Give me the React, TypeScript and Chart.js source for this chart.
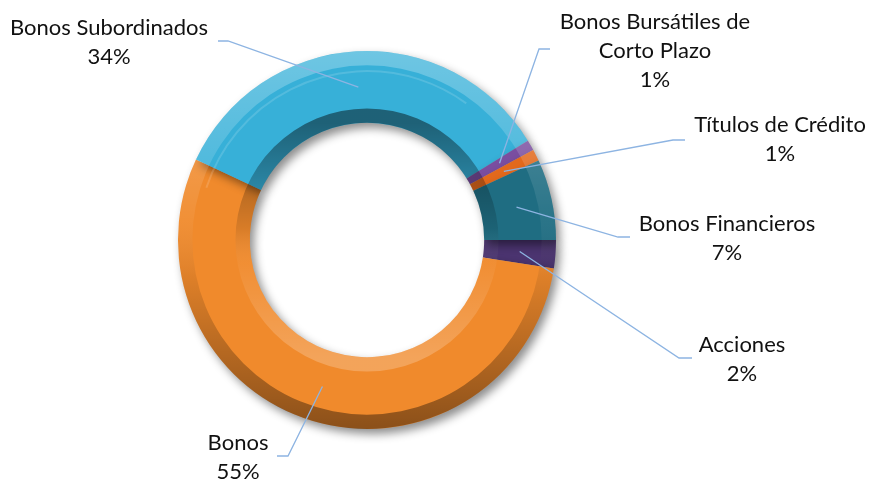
import React, { useEffect, useRef } from 'react';
import { Chart, registerables } from 'chart.js';

Chart.register(...registerables);

// ---- Data ----
const categories = [
  'Acciones',
  'Bonos',
  'Bonos Subordinados',
  'Bonos Bursátiles de Corto Plazo',
  'Títulos de Crédito',
  'Bonos Financieros',
];
const labelLines = [
  ['Acciones'],
  ['Bonos'],
  ['Bonos Subordinados'],
  ['Bonos Bursátiles de', 'Corto Plazo'],
  ['Títulos de Crédito'],
  ['Bonos Financieros'],
];
const shares = [2.4, 54.6, 34.2, 0.9, 1.0, 6.9];
const colors = ['#4B3470', '#F08A2C', '#37B0D8', '#7A4EA0', '#E2691C', '#1F6D82'];

// ---- Label layout (text centre, leader end point, elbow x) ----
const labelLayout = [
  { x: 742, y: 345, ex: 692, ey: 358, bx: 679 },
  { x: 238, y: 443, ex: 277, ey: 456, bx: 288 },
  { x: 109, y: 28, ex: 218, ey: 41, bx: 228 },
  { x: 655, y: 22, ex: 550, ey: 49, bx: 539 },
  { x: 780, y: 125, ex: 685, ey: 140, bx: 673 },
  { x: 727, y: 224, ex: 630, ey: 237, bx: 618 },
];

const FONT = '22px Lato, "Open Sans", sans-serif';
const LINE_H = 29;

const ringPath = (ctx: CanvasRenderingContext2D, cx: number, cy: number, r0: number, r1: number) => {
  ctx.beginPath();
  ctx.arc(cx, cy, r1, 0, Math.PI * 2, false);
  ctx.arc(cx, cy, r0, Math.PI * 2, 0, true);
  ctx.closePath();
};

const effectsPlugin = {
  id: 'effects',
  beforeDatasetsDraw(chart: any) {
    const ctx = chart.ctx;
    ctx.save();
    ctx.shadowColor = 'rgba(0,0,0,0.45)';
    ctx.shadowBlur = 10;
    ctx.shadowOffsetX = 4;
    ctx.shadowOffsetY = 5;
  },
  afterDatasetsDraw(chart: any) {
    const ctx = chart.ctx;
    ctx.restore();
    const meta = chart.getDatasetMeta(0);
    const arc = meta.data[0];
    if (!arc) return;
    const { x: cx, y: cy, innerRadius: ri, outerRadius: ro } = arc.getProps(['x', 'y', 'innerRadius', 'outerRadius'], true);
    const w = ro - ri;
    ctx.save();
    // outer bevel
    let g = ctx.createLinearGradient(0, cy - ro, 0, cy + ro);
    g.addColorStop(0, 'rgba(255,255,255,0.28)');
    g.addColorStop(0.45, 'rgba(255,255,255,0.05)');
    g.addColorStop(0.6, 'rgba(0,0,0,0.08)');
    g.addColorStop(1, 'rgba(0,0,0,0.42)');
    ringPath(ctx, cx, cy, ro - w * 0.2, ro);
    ctx.fillStyle = g;
    ctx.fill();
    // inner bevel
    g = ctx.createLinearGradient(0, cy - ri, 0, cy + ri);
    g.addColorStop(0, 'rgba(0,0,0,0.45)');
    g.addColorStop(0.45, 'rgba(0,0,0,0.1)');
    g.addColorStop(0.6, 'rgba(255,255,255,0.04)');
    g.addColorStop(1, 'rgba(255,255,255,0.22)');
    ringPath(ctx, cx, cy, ri, ri + w * 0.2);
    ctx.fillStyle = g;
    ctx.fill();
    // subtle highlight line on the face
    ctx.beginPath();
    ctx.arc(cx, cy, ro - w * 0.28, Math.PI * 1.1, Math.PI * 1.7, false);
    ctx.strokeStyle = 'rgba(255,255,255,0.14)';
    ctx.lineWidth = 2;
    ctx.stroke();
    ctx.restore();

    // labels and leader lines
    const total = shares.reduce((a, b) => a + b, 0);
    ctx.save();
    meta.data.forEach((el: any, i: number) => {
      const p = el.getCenterPoint();
      const L = labelLayout[i];
      ctx.beginPath();
      ctx.moveTo(L.ex, L.ey);
      ctx.lineTo(L.bx, L.ey);
      ctx.lineTo(p.x, p.y);
      ctx.strokeStyle = '#8DB4E2';
      ctx.lineWidth = 1.3;
      ctx.stroke();
      ctx.font = FONT;
      ctx.fillStyle = '#111111';
      ctx.textAlign = 'center';
      ctx.textBaseline = 'middle';
      const lines = [...labelLines[i], Math.round((shares[i] / total) * 100) + '%'];
      lines.forEach((t, k) => ctx.fillText(t, L.x, L.y + k * LINE_H));
    });
    ctx.restore();
  },
};

export default function App() {
  const ref = useRef<HTMLCanvasElement | null>(null);
  useEffect(() => {
    if (!ref.current) return;
    const chart = new Chart(ref.current, {
      type: 'doughnut',
      data: {
        labels: categories,
        datasets: [
          {
            data: shares,
            backgroundColor: colors,
            borderWidth: 0,
            hoverOffset: 0,
            offset: 0,
          },
        ],
      },
      options: {
        animation: false,
        responsive: true,
        maintainAspectRatio: false,
        rotation: 90,
        cutout: '62%',
        events: [],
        layout: { padding: { left: 178, right: 313, top: 51, bottom: 50 } },
        plugins: {
          legend: { display: false },
          tooltip: { enabled: false },
        },
      },
      plugins: [effectsPlugin],
    });
    return () => chart.destroy();
  }, []);
  return (
    <div style={{ position: 'fixed', left: 0, top: 0, width: 869, height: 479, background: '#ffffff' }}>
      <canvas ref={ref} />
    </div>
  );
}
